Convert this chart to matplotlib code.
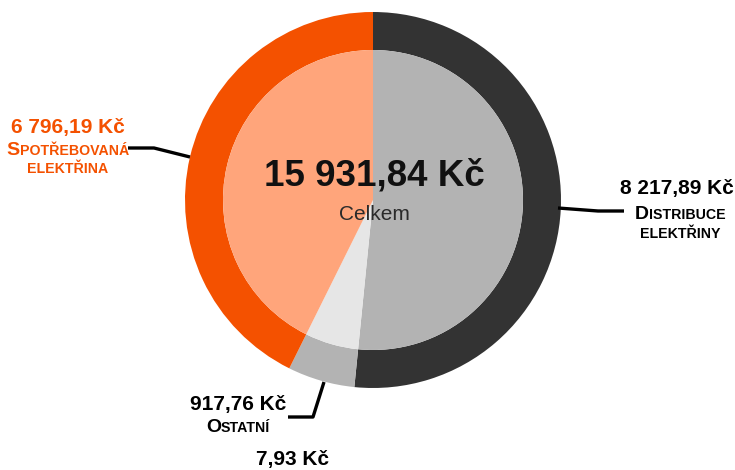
import matplotlib
matplotlib.use("Agg")
import matplotlib.pyplot as plt

# ---- data ----
categories = ["Distribuce elektřiny", "Ostatní", "Spotřebovaná elektřina"]
values = [8217.89, 917.76, 6796.19]
extra_value = 7.93
total = 15931.84
value_labels = ["8 217,89 Kč", "917,76 Kč", "6 796,19 Kč"]
extra_label = "7,93 Kč"
total_label = "15 931,84 Kč"
center_caption = "Celkem"

outer_colors = ["#333333", "#b3b3b3", "#f45100"]
inner_colors = ["#b3b3b3", "#e6e6e6", "#ffa57b"]

W, H = 735, 470
fig = plt.figure(figsize=(W / 100, H / 100), dpi=100)
ax = fig.add_axes([0, 0, 1, 1])

def Y(py):
    return H - py

cx, cy = 373, Y(200)
R_out, R_in = 188, 150

ax.pie(values, colors=outer_colors, radius=R_out, center=(cx, cy),
       startangle=90, counterclock=False,
       wedgeprops=dict(width=R_out - R_in, linewidth=0))
ax.pie(values, colors=inner_colors, radius=R_in, center=(cx, cy),
       startangle=90, counterclock=False,
       wedgeprops=dict(linewidth=0))

ax.set_xlim(0, W)
ax.set_ylim(0, H)
ax.set_aspect("equal")
ax.axis("off")

FONT = "Liberation Sans"

ax.text(cx + 1, Y(176), total_label, ha="center", va="center",
        fontsize=26.5, fontweight="bold", family=FONT, color="#111111")
ax.text(cx + 1, Y(214), center_caption, ha="center", va="center",
        fontsize=15, family=FONT, color="#2a2a2a")

renderer = fig.canvas.get_renderer()

def small_caps(x, y, text, big=14, small=10.2, color="black"):
    runs = []
    for ch in text:
        up = ch.isupper() or not ch.isalpha()
        if runs and runs[-1][1] == up:
            runs[-1][0] += ch
        else:
            runs.append([ch, up])
    arts = []
    pos = 0.0
    for s, up in runs:
        t = ax.text(x + pos, y, s if up else s.upper(), ha="left", va="baseline",
                    fontsize=big if up else small, fontweight="bold",
                    family=FONT, color=color)
        bb = t.get_window_extent(renderer=renderer)
        pos += bb.width
        arts.append(t)
    shift = pos / 2
    for t in arts:
        xx, yy = t.get_position()
        t.set_position((xx - shift, yy))

def value_text(x, y, s, color="black"):
    ax.text(x, y, s, ha="center", va="baseline", fontsize=15,
            fontweight="bold", family=FONT, color=color)

orange = outer_colors[2]
# Spotřebovaná elektřina
value_text(68, Y(133), value_labels[2], color=orange)
small_caps(68, Y(155), "Spotřebovaná", color=orange)
small_caps(68, Y(173), "elektřina", color=orange)
ax.plot([128, 154, 190], [Y(148), Y(148), Y(157)], color="black", lw=2.4,
        solid_capstyle="butt")

# Distribuce elektřiny
value_text(677, Y(194), value_labels[0])
small_caps(680, Y(219), "Distribuce")
small_caps(680, Y(238), "elektřiny")
ax.plot([558, 598, 624], [Y(208), Y(211), Y(211)], color="black", lw=2.4,
        solid_capstyle="butt")

# Ostatní
value_text(238, Y(410), value_labels[1])
small_caps(238, Y(432), "Ostatní")
ax.plot([324, 313, 288], [Y(382), Y(417), Y(417)], color="black", lw=2.4,
        solid_capstyle="butt")

# tiny extra item
value_text(293, Y(465), extra_label)

fig.savefig("out.png", dpi=100)
